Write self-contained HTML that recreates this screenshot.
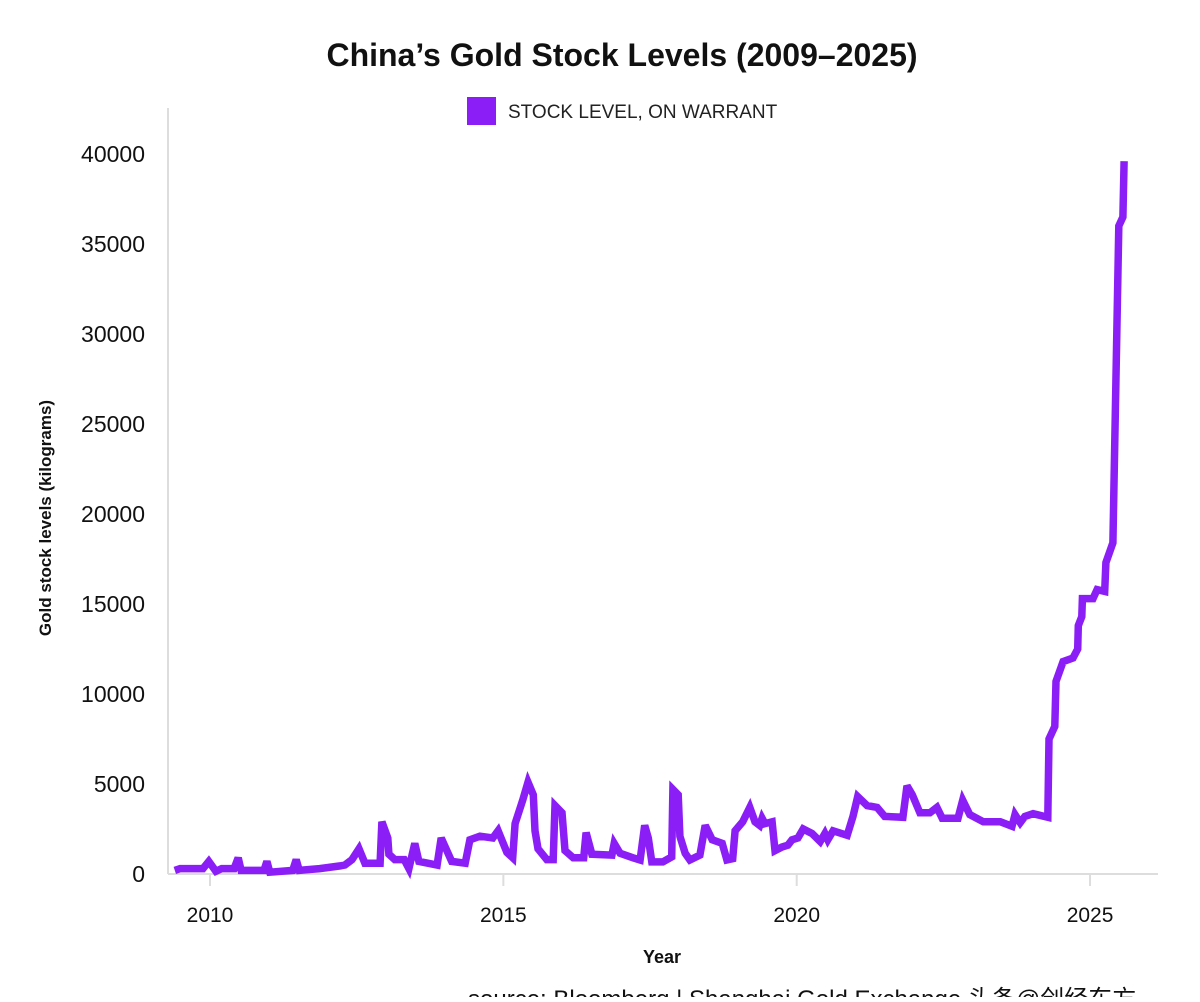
<!DOCTYPE html>
<html><head><meta charset="utf-8"><style>
body{margin:0;background:#fff;width:1200px;height:997px;overflow:hidden;font-family:"Liberation Sans","Noto Sans CJK SC",sans-serif;}
</style></head><body>
<svg width="1200" height="997" viewBox="0 0 1200 997" xmlns="http://www.w3.org/2000/svg">
<text x="622" y="66" text-anchor="middle" font-size="32" font-weight="bold" fill="#111">China’s Gold Stock Levels (2009–2025)</text>
<g>
<rect x="467" y="97" width="29" height="28" fill="#8b1ef6"/>
<text x="508" y="118" font-size="19" fill="#222">STOCK LEVEL, ON WARRANT</text>
</g>
<line x1="168" y1="108" x2="168" y2="874" stroke="#ddd" stroke-width="2"/>
<line x1="168" y1="874" x2="1158" y2="874" stroke="#ddd" stroke-width="2"/>
<g id="yticks"></g><g id="xticks"></g>
<text transform="translate(51,518) rotate(-90)" text-anchor="middle" font-size="17" font-weight="bold" fill="#111">Gold stock levels (kilograms)</text>
<text x="662" y="963" text-anchor="middle" font-size="18" font-weight="bold" fill="#111">Year</text>
<path id="series" fill="none" stroke="#8b1ef6" stroke-width="7.5" stroke-linejoin="miter" stroke-miterlimit="3"/>
<text x="468" y="1007" font-size="24" fill="#111">source: Bloomberg | Shanghai Gold Exchange 头条@创经东方</text>
</svg>
<script>
const dates=[2009.40,2009.49,2009.88,2009.98,2010.10,2010.20,2010.41,2010.48,2010.53,2010.92,2010.97,2011.02,2011.41,2011.47,2011.52,2011.87,2012.22,2012.30,2012.42,2012.54,2012.64,2012.90,2012.93,2013.03,2013.05,2013.15,2013.31,2013.39,2013.49,2013.56,2013.87,2013.94,2014.12,2014.35,2014.43,2014.60,2014.82,2014.91,2015.06,2015.16,2015.20,2015.33,2015.42,2015.51,2015.54,2015.59,2015.74,2015.85,2015.88,2016.00,2016.05,2016.19,2016.37,2016.41,2016.51,2016.85,2016.89,2016.99,2017.21,2017.33,2017.41,2017.47,2017.53,2017.72,2017.87,2017.89,2017.98,2018.01,2018.10,2018.18,2018.35,2018.44,2018.56,2018.73,2018.81,2018.91,2018.95,2019.08,2019.20,2019.29,2019.37,2019.41,2019.46,2019.58,2019.63,2019.75,2019.85,2019.92,2020.02,2020.11,2020.26,2020.40,2020.48,2020.53,2020.62,2020.86,2020.96,2021.04,2021.20,2021.37,2021.50,2021.81,2021.88,2021.97,2022.10,2022.27,2022.39,2022.48,2022.75,2022.83,2022.95,2023.18,2023.47,2023.67,2023.72,2023.81,2023.89,2024.03,2024.28,2024.30,2024.40,2024.42,2024.54,2024.71,2024.79,2024.80,2024.86,2024.87,2025.05,2025.12,2025.25,2025.27,2025.39,2025.49,2025.56,2025.58];
const values=[200,300,300,700,150,300,300,900,200,200,700,100,200,800,200,300,450,500,800,1400,600,600,2900,2000,1100,800,800,300,1700,700,500,2000,700,600,1900,2100,2000,2400,1200,900,2800,4100,5100,4400,2400,1400,800,800,3800,3400,1300,900,900,2300,1100,1050,1700,1150,900,780,2700,2000,670,670,950,4700,4400,2100,1150,780,1050,2700,1900,1700,780,850,2400,2900,3700,2900,2700,3100,2800,2900,1300,1500,1600,1900,2000,2500,2250,1800,2250,1900,2400,2150,3200,4300,3800,3700,3200,3150,4900,4400,3400,3400,3700,3100,3100,4100,3300,2900,2900,2650,3300,2850,3200,3350,3150,7500,8200,10700,11800,12000,12500,13800,14300,15300,15300,15800,15700,17300,18400,36000,36500,39600];
const yTicks=[0,5000,10000,15000,20000,25000,30000,35000,40000];
const xTicks=[2010,2015,2020,2025];
const xs=d=>210+(d-2010)*58.67;
const ys=v=>874-v*0.018;
const NS="http://www.w3.org/2000/svg";
const yg=document.getElementById('yticks');
yTicks.forEach(t=>{const e=document.createElementNS(NS,'text');
e.setAttribute('x',145);e.setAttribute('y',ys(t)+8);e.setAttribute('text-anchor','end');e.setAttribute('font-size','23');e.setAttribute('fill','#111');


e.textContent=t;yg.appendChild(e);});
const xg=document.getElementById('xticks');
xTicks.forEach(t=>{const l=document.createElementNS(NS,'line');
l.setAttribute('x1',xs(t));l.setAttribute('x2',xs(t));l.setAttribute('y1',874);l.setAttribute('y2',886);l.setAttribute('stroke','#ddd');l.setAttribute('stroke-width','2');


xg.appendChild(l);
const e=document.createElementNS(NS,'text');
e.setAttribute('x',xs(t));e.setAttribute('y',922);e.setAttribute('text-anchor','middle');e.setAttribute('font-size','21');e.setAttribute('fill','#111');


e.textContent=t;xg.appendChild(e);});
document.getElementById('series').setAttribute('d',dates.map((d,i)=>(i?'L':'M')+xs(d).toFixed(1)+','+ys(values[i]).toFixed(1)).join(' '));
</script>
</body></html>
